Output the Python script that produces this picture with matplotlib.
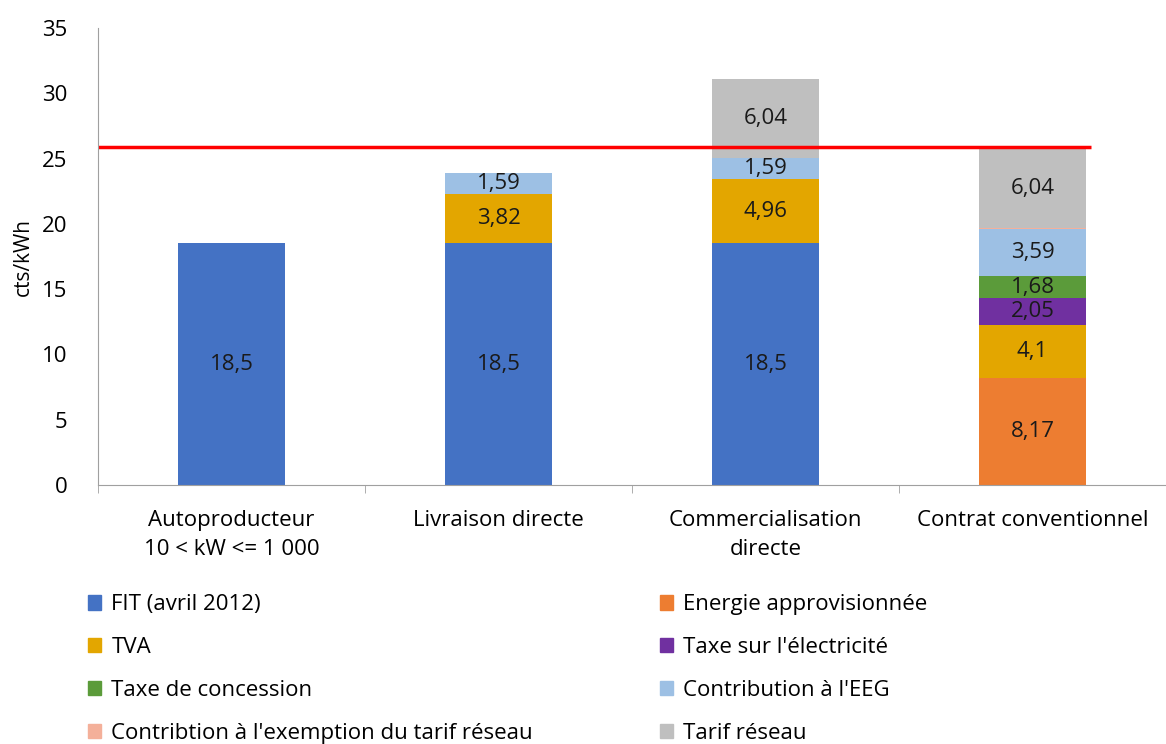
import matplotlib.pyplot as plt
import numpy as np
from matplotlib.patches import Patch

plt.rcParams["font.family"] = ["Open Sans", "DejaVu Sans"]

# Data
categories = [
    "Autoproducteur\n10 < kW <= 1 000",
    "Livraison directe",
    "Commercialisation\ndirecte",
    "Contrat conventionnel",
]
fit = [18.5, 18.5, 18.5, 0]
energie = [0, 0, 0, 8.17]
tva = [0, 3.82, 4.96, 4.1]
taxe_elec = [0, 0, 0, 2.05]
taxe_conc = [0, 0, 0, 1.68]
eeg = [0, 1.59, 1.59, 3.59]
exemption = [0, 0, 0, 0.1]
tarif = [0, 0, 6.04, 6.04]
ref_price = 25.85

series = [
    ("FIT (avril 2012)", fit, "#4472C4", True),
    ("Energie approvisionnée", energie, "#ED7D31", True),
    ("TVA", tva, "#E3A600", True),
    ("Taxe sur l'électricité", taxe_elec, "#7030A0", True),
    ("Taxe de concession", taxe_conc, "#5B9B3A", True),
    ("Contribution à l'EEG", eeg, "#9DC0E4", True),
    ("Contribtion à l'exemption du tarif réseau", exemption, "#F4B09A", False),
    ("Tarif réseau", tarif, "#BFBFBF", True),
]

fs = 16

fig = plt.figure(figsize=(11.66, 7.44), dpi=100)
ax = fig.add_axes([98 / 1166, 259 / 744, 1068 / 1166, 457 / 744])

x = np.arange(len(categories))
bottom = np.zeros(len(categories))
for name, vals, col, show in series:
    vals = np.array(vals, dtype=float)
    bars = ax.bar(x, vals, 0.4, bottom=bottom, color=col, label=name)
    if show:
        labels = [f"{v:g}".replace(".", ",") if v > 0 else "" for v in vals]
        ax.bar_label(bars, labels=labels, label_type="center", fontsize=fs,
                     color="#1a1a1a")
    bottom += vals

ax.plot([-0.5, 3.22], [ref_price, ref_price], color="#FF0000", lw=2.5,
        solid_capstyle="butt", clip_on=False)

ax.set_xlim(-0.5, -0.5 + 1068 / 269.5)
ax.set_ylim(0, 35)
ax.set_yticks(np.arange(0, 36, 5))
ax.set_ylabel("cts/kWh", fontsize=fs - 1, labelpad=6)
ax.tick_params(axis="y", length=0, labelsize=fs, pad=22)
ax.set_xticks(x, categories, linespacing=1.5)
ax.set_xticks(np.arange(-0.5, 4, 1), minor=True)
ax.tick_params(axis="x", which="major", length=0, labelsize=fs, pad=18)
ax.tick_params(axis="x", which="minor", length=6, color="#A0A0A0")
for s in ["top", "right"]:
    ax.spines[s].set_visible(False)
for s in ["left", "bottom"]:
    ax.spines[s].set_color("#A0A0A0")

# Legend in two columns
left_items = [series[i] for i in (0, 2, 4, 6)]
right_items = [series[i] for i in (1, 3, 5, 7)]
for items, xpos in ((left_items, 68 / 1166), (right_items, 640 / 1166)):
    handles = [Patch(color=c) for _, _, c, _ in items]
    names = [n for n, _, _, _ in items]
    fig.legend(handles, names, loc="upper left", bbox_to_anchor=(xpos, 0.228),
               frameon=False, fontsize=fs, handlelength=0.6,
               handleheight=0.6, handletextpad=0.45, labelspacing=0.98)

fig.savefig("out.png", dpi=100)
